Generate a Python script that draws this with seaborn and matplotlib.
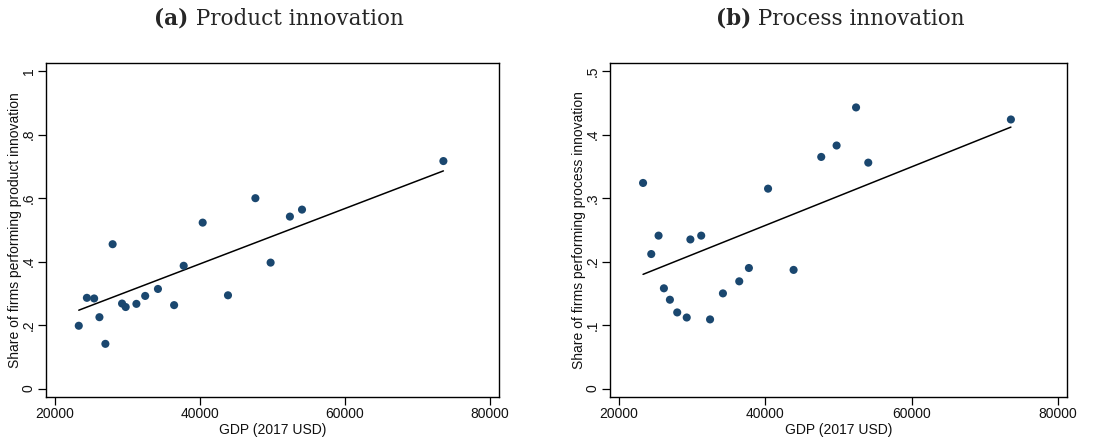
import matplotlib
matplotlib.use("Agg")
import matplotlib.pyplot as plt
import seaborn as sns
import numpy as np
import pandas as pd

# ---- data ----
gdp = [23280, 24400, 25400, 26130, 26950, 27950, 29250, 29750, 31230, 32440,
       34200, 36430, 37750, 40370, 43860, 47640, 49740, 52400, 54070, 73570]
product_share = [0.198, 0.286, 0.284, 0.225, 0.141, 0.455, 0.268, 0.257, 0.267, 0.292,
                 0.314, 0.263, 0.387, 0.523, 0.294, 0.600, 0.397, 0.542, 0.564, 0.717]
process_share = [0.324, 0.212, 0.241, 0.158, 0.140, 0.120, 0.112, 0.235, 0.241, 0.109,
                 0.150, 0.169, 0.190, 0.315, 0.187, 0.365, 0.383, 0.443, 0.356, 0.424]

# fitted lines (endpoints at min / max GDP)
fit_gdp = [23280, 73570]
fit_product = [0.247, 0.686]
fit_process = [0.180, 0.412]

x_ticks = [20000, 40000, 60000, 80000]
x_ticklabels = ["20000", "40000", "60000", "80000"]
y_ticks_a = [0, 0.2, 0.4, 0.6, 0.8, 1.0]
y_ticklabels_a = ["0", ".2", ".4", ".6", ".8", "1"]
y_ticks_b = [0, 0.1, 0.2, 0.3, 0.4, 0.5]
y_ticklabels_b = ["0", ".1", ".2", ".3", ".4", ".5"]

titles_bold = ["(a)", "(b)"]
titles_rest = [" Product innovation", " Process innovation"]
xlabel = "GDP (2017 USD)"
ylabels = ["Share of firms performing product innovation",
           "Share of firms performing process innovation"]

df = pd.DataFrame({"gdp": gdp, "product": product_share, "process": process_share})
fit_df = pd.DataFrame({"gdp": fit_gdp, "product": fit_product, "process": fit_process})

sns.set_theme(style="white")
plt.rcParams["font.family"] = ["Liberation Sans", "DejaVu Sans"]

W, H = 1115, 440
fig = plt.figure(figsize=(W / 100, H / 100), dpi=100)

def frac_axes(l, r, t, b):
    return [l / W, 1 - b / H, (r - l) / W, (b - t) / H]

axA = fig.add_axes(frac_axes(46, 499, 63, 397))
axB = fig.add_axes(frac_axes(610, 1067, 63, 397))

marker_color = "#1a476f"

for ax, col, yt, ytl, ylim, ylab in [
    (axA, "product", y_ticks_a, y_ticklabels_a, (-0.0265, 1.026), ylabels[0]),
    (axB, "process", y_ticks_b, y_ticklabels_b, (-0.01325, 0.513), ylabels[1]),
]:
    sns.scatterplot(data=df, x="gdp", y=col, ax=ax, color=marker_color,
                    s=34, edgecolor="none", zorder=3)
    sns.lineplot(data=fit_df, x="gdp", y=col, ax=ax, color="black", lw=1.1, zorder=2)
    ax.set_xlim(18760, 81240)
    ax.set_ylim(*ylim)
    ax.set_xticks(x_ticks)
    ax.set_xticklabels(x_ticklabels, fontsize=10, color="#111111")
    ax.set_yticks(yt)
    ax.set_yticklabels(ytl, fontsize=10, rotation=90, va="center", color="#111111")
    ax.set_xlabel(xlabel, fontsize=10, labelpad=1, color="#111111")
    ax.set_ylabel(ylab, fontsize=10, labelpad=0, color="#111111")
    ax.tick_params(axis="both", direction="out", length=5.5, width=0.9, color="black",
                   bottom=True, left=True, top=False, right=False, pad=2)
    for sp in ax.spines.values():
        sp.set_visible(True)
        sp.set_color("black")
        sp.set_linewidth(1.0)

# titles with bold prefix
fig.canvas.draw()
renderer = fig.canvas.get_renderer()
title_font = ["DejaVu Serif"]
for cx, tb, tr in [(279, titles_bold[0], titles_rest[0]), (840, titles_bold[1], titles_rest[1])]:
    y = 1 - 19 / H
    t1 = fig.text(0, y, tb, fontsize=15.5, fontweight="bold", family=title_font, va="center", ha="left")
    t2 = fig.text(0, y, tr, fontsize=15.5, family=title_font, va="center", ha="left")
    w1 = t1.get_window_extent(renderer).width
    w2 = t2.get_window_extent(renderer).width
    start = cx - (w1 + w2) / 2
    t1.set_x(start / W)
    t2.set_x((start + w1) / W)

fig.savefig("out.png", dpi=100)
